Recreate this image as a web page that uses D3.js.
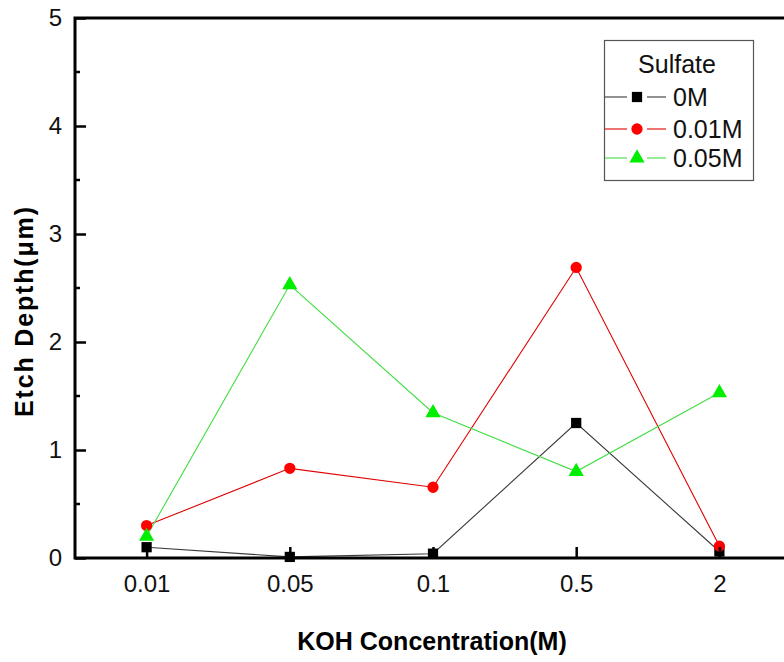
<!DOCTYPE html>
<html>
<head>
<meta charset="utf-8">
<script src="https://cdn.jsdelivr.net/npm/d3@7"></script>
<style>
  body { margin: 0; background: #fff; }
  text { font-family: "Liberation Sans", Arial, sans-serif; }
</style>
</head>
<body>
<div id="chart"></div>
<script>
// data
var koh = ["0.01", "0.05", "0.1", "0.5", "2"];
var sulfate0 = [0.10, 0.01, 0.04, 1.25, 0.06];
var sulfate001 = [0.30, 0.83, 0.655, 2.69, 0.11];
var sulfate005 = [0.20, 2.53, 1.345, 0.80, 1.53];
var yTicks = [0, 1, 2, 3, 4, 5];
var seriesNames = ["0M", "0.01M", "0.05M"];

var svgWidth = 784;
var svgHeight = 662;

var svg = d3.select("#chart")
    .append("svg")
    .attr("width", svgWidth)
    .attr("height", svgHeight);

// plot frame (right side runs off the page)
var plotLeft = 75, plotRight = 791, plotTop = 18, plotBottom = 558;

var xScale = d3.scalePoint()
    .domain(koh)
    .range([plotLeft, plotRight])
    .padding(0.5);

var yScale = d3.scaleLinear()
    .domain([0, 5])
    .range([plotBottom, plotTop]);

var series = [
    { name: seriesNames[0], values: sulfate0, line: "#3a3a3a", fill: "#000", shape: d3.symbolSquare, size: 105 },
    { name: seriesNames[1], values: sulfate001, line: "#e00000", fill: "#ff0000", shape: d3.symbolCircle, size: 100 },
    { name: seriesNames[2], values: sulfate005, line: "#44dd44", fill: "#00ee00", shape: d3.symbolTriangle, size: 100 }
];

var line = d3.line()
    .x(function (d, i) { return xScale(koh[i]); })
    .y(function (d) { return yScale(d); });

// lines then markers
series.forEach(function (s) {
    svg.append("path")
        .datum(s.values)
        .attr("d", line)
        .attr("fill", "none")
        .attr("stroke", s.line)
        .attr("stroke-width", 1.1);
});

series.forEach(function (s) {
    svg.append("g").selectAll("path")
        .data(s.values)
        .enter()
        .append("path")
        .attr("transform", function (d, i) { return "translate(" + xScale(koh[i]) + "," + yScale(d) + ")"; })
        .attr("d", d3.symbol().type(s.shape).size(s.size))
        .attr("fill", s.fill);
});

// axes
var bottomAxis = d3.axisBottom(xScale).tickSize(-11).tickSizeOuter(0).tickPadding(24);
var xAxis = svg.append("g")
    .attr("transform", "translate(0," + plotBottom + ")")
    .call(bottomAxis);
xAxis.select(".domain").remove();
xAxis.selectAll("line").attr("stroke", "#000").attr("stroke-width", 2.5);
xAxis.selectAll("text")
    .attr("font-size", 24)
    .attr("fill", "#111")
    .attr("dy", "0.42em");

var leftAxis = d3.axisLeft(yScale)
    .tickValues(yTicks)
    .tickFormat(d3.format("d"))
    .tickSize(-11)
    .tickSizeOuter(0)
    .tickPadding(13);
var yAxis = svg.append("g")
    .attr("transform", "translate(" + plotLeft + ",0)")
    .call(leftAxis);
yAxis.select(".domain").remove();
yAxis.selectAll("line").attr("stroke", "#000").attr("stroke-width", 2.5);
yAxis.selectAll("text")
    .attr("font-size", 24)
    .attr("fill", "#111");

// minor y ticks
svg.append("g").selectAll("line")
    .data(d3.range(0.5, 5, 1))
    .enter()
    .append("line")
    .attr("x1", plotLeft)
    .attr("x2", plotLeft + 5)
    .attr("y1", d => yScale(d))
    .attr("y2", d => yScale(d))
    .attr("stroke", "#000")
    .attr("stroke-width", 2.5);

// frame lines
svg.append("path")
    .attr("d", "M" + plotRight + "," + plotTop + "H" + plotLeft + "V" + plotBottom + "H" + plotRight)
    .attr("fill", "none")
    .attr("stroke", "#000")
    .attr("stroke-width", 3);

// axis titles
svg.append("text")
    .attr("x", 432)
    .attr("y", 650)
    .attr("text-anchor", "middle")
    .attr("font-size", 25)
    .attr("font-weight", "bold")
    .text("KOH Concentration(M)");

svg.append("text")
    .attr("transform", "translate(33,312) rotate(-90)")
    .attr("x", -105)
    .attr("textLength", 210)
    .attr("lengthAdjust", "spacing")
    .attr("font-size", 25)
    .attr("font-weight", "bold")
    .text("Etch Depth(\u03bcm)");

// legend
var legend = svg.append("g");
legend.append("rect")
    .attr("x", 604.5)
    .attr("y", 40.5)
    .attr("width", 149)
    .attr("height", 140)
    .attr("fill", "#fff")
    .attr("stroke", "#555")
    .attr("stroke-width", 1.2);

legend.append("text")
    .attr("x", 677)
    .attr("y", 73)
    .attr("text-anchor", "middle")
    .attr("font-size", 25)
    .attr("fill", "#111")
    .text("Sulfate");

var rowY = [97, 129, 158];
series.forEach(function (s, i) {
    var g = legend.append("g").attr("transform", "translate(0," + rowY[i] + ")");
    g.append("line")
        .attr("x1", 605).attr("x2", 627)
        .attr("stroke", s.line).attr("stroke-width", 1.1);
    g.append("line")
        .attr("x1", 647).attr("x2", 666)
        .attr("stroke", s.line).attr("stroke-width", 1.1);
    g.append("path")
        .attr("transform", "translate(637,0)")
        .attr("d", d3.symbol().type(s.shape).size(s.size))
        .attr("fill", s.fill);
    g.append("text")
        .attr("x", 673)
        .attr("y", 0)
        .attr("dy", "0.36em")
        .attr("font-size", 25)
        .attr("fill", "#111")
        .text(s.name);
});
</script>
</body>
</html>
